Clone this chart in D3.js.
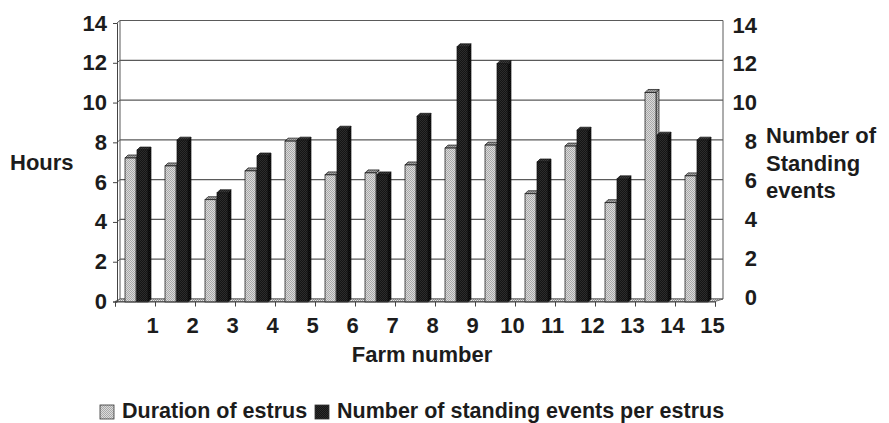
<!DOCTYPE html>
<html>
<head>
<meta charset="utf-8">
<script src="https://cdn.jsdelivr.net/npm/d3@7"></script>
<style>
  html, body { margin: 0; padding: 0; background: #fff; }
  svg { display: block; }
  text { font-family: "Liberation Sans", Arial, Helvetica, sans-serif; font-weight: bold; fill: #1c1c1c; }
</style>
</head>
<body>
<svg id="chart" width="889" height="423"></svg>
<script>
// Farm numbers along the horizontal axis
const farms = d3.range(1, 16);
// Duration of estrus (hours) per farm
const duration = [7.25, 6.85, 5.15, 6.6, 8.1, 6.4, 6.5, 6.9, 7.75, 7.9, 5.45, 7.85, 5.0, 10.55, 6.35];
// Number of standing events per estrus per farm
const standing = [7.65, 8.15, 5.5, 7.35, 8.15, 8.7, 6.4, 9.35, 12.85, 12.0, 7.05, 8.65, 6.2, 8.4, 8.15];
// Axis ticks (both axes share 0–14)
const yTicks = [0, 2, 4, 6, 8, 10, 12, 14];
const seriesNames = ["Duration of estrus", "Number of standing events per estrus"];

const svg = d3.select("#chart");
const fontSize = 22;

// front plane (axis ticks) and back wall (gridlines)
const xFront = d3.scaleLinear().domain([0, 15]).range([115, 715]);
const yFront = d3.scaleLinear().domain([0, 14]).range([301.5, 23]);
const yBack = d3.scaleLinear().domain([0, 14]).range([299, 20.5]);
const yRight = d3.scaleLinear().domain([0, 14]).range([297, 25]);
const xBand = d3.scaleBand().domain(farms).range([115, 715]);
// bars sit a little behind the front plane
const yBar = d3.scaleLinear().domain([0, 14]).range([302, 302 - 14 * 19.86]);

const backL = 120, backR = 723;

// patterns for stippled bar fills
const defs = svg.append("defs");
function stipple(id, base, dot) {
  const p = defs.append("pattern").attr("id", id).attr("width", 2).attr("height", 2)
    .attr("patternUnits", "userSpaceOnUse");
  p.append("rect").attr("width", 2).attr("height", 2).attr("fill", base);
  p.append("rect").attr("width", 1).attr("height", 1).attr("fill", dot);
  p.append("rect").attr("x", 1).attr("y", 1).attr("width", 1).attr("height", 1).attr("fill", dot);
}
stipple("lightFront", "#dcdcdc", "#a8a8a8");
stipple("lightSide", "#b8b8b8", "#8c8c8c");
stipple("lightTop", "#a6a6a6", "#7a7a7a");
stipple("darkFront", "#141414", "#2c2c2c");
stipple("darkSide", "#050505", "#1a1a1a");
stipple("darkTop", "#3a3a3a", "#222");
stipple("floor", "#e6e6e6", "#9a9a9a");

// back wall gridlines
svg.append("g").selectAll("line").data(yTicks).join("line")
  .attr("x1", backL).attr("x2", backR)
  .attr("y1", d => yBack(d)).attr("y2", d => yBack(d))
  .attr("stroke", "#5a5a5a").attr("stroke-width", 1.2);

// side wall gridline connectors
svg.append("g").selectAll("line").data(yTicks).join("line")
  .attr("x1", 117).attr("x2", backL)
  .attr("y1", d => yFront(d)).attr("y2", d => yBack(d))
  .attr("stroke", "#5a5a5a").attr("stroke-width", 1);

// back wall left edge
svg.append("line").attr("x1", backL).attr("x2", backL).attr("y1", yBack(14)).attr("y2", yBack(0))
  .attr("stroke", "#5a5a5a").attr("stroke-width", 1);

// floor
svg.append("path")
  .attr("d", `M${xFront(0)},${yFront(0)} L${xFront(15)},${yFront(0)} L${backR},${yBack(0)} L${backL},${yBack(0)} Z`)
  .attr("fill", "url(#floor)").attr("stroke", "#555").attr("stroke-width", 0.8);

// bars drawn as front, side and top faces
const W = 11, D = 3;
function drawBars(values, offset, key) {
  const g = svg.append("g");
  const data = farms.map((f, i) => ({ f, v: values[i] }));
  const bars = g.selectAll("g").data(data).join("g");
  bars.append("path") // side face
    .attr("d", d => {
      const x = xBand(d.f) + offset + W, y0 = yBar(0), y1 = yBar(d.v);
      return `M${x},${y1} L${x + D},${y1 - D} L${x + D},${y0 - D} L${x},${y0} Z`;
    })
    .attr("fill", `url(#${key}Side)`).attr("stroke", "#111").attr("stroke-width", 0.7);
  bars.append("path") // top face
    .attr("d", d => {
      const x = xBand(d.f) + offset, y1 = yBar(d.v);
      return `M${x},${y1} L${x + D},${y1 - D} L${x + W + D},${y1 - D} L${x + W},${y1} Z`;
    })
    .attr("fill", `url(#${key}Top)`).attr("stroke", "#111").attr("stroke-width", 0.7);
  bars.append("rect") // front face
    .attr("x", d => xBand(d.f) + offset)
    .attr("y", d => yBar(d.v))
    .attr("width", W)
    .attr("height", d => yBar(0) - yBar(d.v))
    .attr("fill", `url(#${key}Front)`).attr("stroke", "#111").attr("stroke-width", 0.7);
}
drawBars(duration, 10, "light");
drawBars(standing, 22, "dark");

// right axis line
svg.append("line").attr("x1", backR).attr("x2", backR).attr("y1", yBack(14)).attr("y2", yBack(0))
  .attr("stroke", "#5a5a5a").attr("stroke-width", 1);

// left axis
const leftAxis = svg.append("g").attr("transform", "translate(117,0)")
  .call(d3.axisLeft(yFront).tickValues(yTicks).tickSize(4).tickPadding(6));
leftAxis.select(".domain").attr("stroke", "#444");
leftAxis.selectAll(".tick line").attr("stroke", "#444");
leftAxis.selectAll("text").style("font-size", fontSize + "px");

// right axis labels
const rightAxis = svg.append("g").attr("transform", `translate(${backR},0)`)
  .call(d3.axisRight(yRight).tickValues(yTicks).tickSize(0).tickPadding(0));
rightAxis.select(".domain").remove();
rightAxis.selectAll("text").attr("x", 34).attr("text-anchor", "end").style("font-size", fontSize + "px");

// bottom axis: ticks between farms, labels next to each right-hand tick
const bottomAxis = svg.append("g").attr("transform", `translate(0,${yFront(0)})`)
  .call(d3.axisBottom(xFront).tickValues(d3.range(0, 16)).tickSize(5).tickPadding(11)
    .tickFormat(d => d === 0 ? "" : d));
bottomAxis.select(".domain").attr("stroke", "#444");
bottomAxis.selectAll(".tick line").attr("stroke", "#444");
bottomAxis.selectAll("text").attr("dx", -3).style("font-size", fontSize + "px");

// axis titles
svg.append("text").attr("x", 10).attr("y", 170).style("font-size", fontSize + "px").text("Hours");
svg.append("text").attr("x", 422).attr("y", 362).attr("text-anchor", "middle")
  .style("font-size", fontSize + "px").text("Farm number");
const rt = svg.append("text").attr("x", 766).attr("y", 143).style("font-size", fontSize + "px");
["Number of", "Standing", "events"].forEach((t, i) =>
  rt.append("tspan").attr("x", 766).attr("dy", i === 0 ? 0 : 27.5).text(t));

// legend
const legendFont = 21.5;
const legend = svg.append("g");
const legendItems = [
  { name: seriesNames[0], fill: "url(#lightFront)", x: 100 },
  { name: seriesNames[1], fill: "url(#darkFront)", x: 315 }
];
legendItems.forEach(it => {
  legend.append("rect").attr("x", it.x).attr("y", 405).attr("width", 14).attr("height", 14)
    .attr("fill", it.fill).attr("stroke", "#333").attr("stroke-width", 0.8);
  legend.append("text").attr("x", it.x + 22).attr("y", 418).style("font-size", legendFont + "px").text(it.name);
});
</script>
</body>
</html>
